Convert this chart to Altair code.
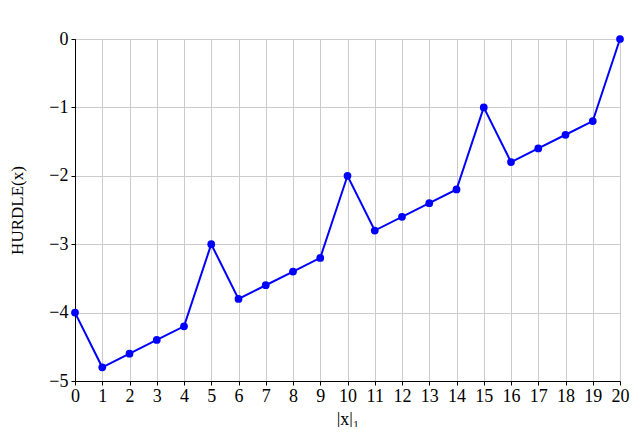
import altair as alt
import pandas as pd

xs = list(range(21))
ys = [-4, -4.8, -4.6, -4.4, -4.2, -3, -3.8, -3.6, -3.4, -3.2, -2,
      -2.8, -2.6, -2.4, -2.2, -1, -1.8, -1.6, -1.4, -1.2, 0]

df = pd.DataFrame({"x": xs, "y": ys})
font = "Liberation Serif"

base = alt.Chart(df).encode(
    x=alt.X("x:Q", scale=alt.Scale(domain=[0, 20], nice=False),
            axis=alt.Axis(values=xs, title="|x|₁", titleFontSize=18,
                          titleFontWeight="normal", titlePadding=5,
                          labelFontSize=18, tickSize=4, labelPadding=2,
                          labelFlush=False)),
    y=alt.Y("y:Q", scale=alt.Scale(domain=[-5, 0], nice=False),
            axis=alt.Axis(values=[-5, -4, -3, -2, -1, 0], title="HURDLE(x)",
                          titleFontSize=17, titleFontWeight="normal",
                          titlePadding=22, labelFontSize=18, tickSize=4,
                          labelPadding=3, labelFlush=False,
                          labelExpr="replace(datum.label, '-', '−')")),
)

line = base.mark_line(color="#0000ff", strokeWidth=2)
pts = base.mark_point(color="#0000ff", filled=True, size=60, opacity=1)

chart = (line + pts).properties(
    width=545, height=342,
    padding={"left": 67, "top": 31, "right": 12, "bottom": 46},
    autosize="none",
).configure_axis(
    labelFont=font, titleFont=font,
    labelColor="black", titleColor="black",
    domainColor="black", tickColor="black",
    gridColor="#cccccc", gridWidth=1,
).configure_view(stroke="black", strokeWidth=1)

chart.save("out.html", embed_options={"renderer": "svg", "actions": False})
